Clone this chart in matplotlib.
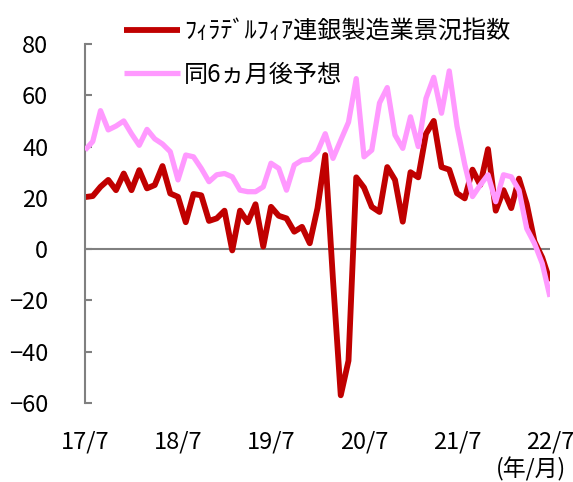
import matplotlib
matplotlib.use("Agg")
import matplotlib.pyplot as plt
import numpy as np

plt.rcParams['font.family'] = ['Noto Sans CJK JP', 'DejaVu Sans']

# Monthly data 2017/7 .. 2022/7
months = np.arange(61)
tick_pos = [0, 12, 24, 36, 48, 60]
tick_labels = ["17/7", "18/7", "19/7", "20/7", "21/7", "22/7"]

current_index = [20.3, 20.7, 24.3, 27.0, 23.0, 29.5, 23.0, 30.8, 23.7, 25.0,
                 32.4, 21.7, 20.4, 10.5, 21.5, 21.0, 11.0, 12.0, 15.0, -0.5,
                 15.0, 10.5, 17.5, 1.0, 16.5, 13.0, 12.0, 6.8, 8.7, 2.3,
                 16.0, 36.7, -12.0, -57.0, -43.5, 28.0, 24.0, 16.5, 14.5, 32.0,
                 27.0, 10.7, 30.0, 28.0, 45.0, 50.0, 32.0, 31.0, 21.8, 19.8,
                 31.0, 25.0, 39.0, 15.0, 23.0, 16.0, 27.5, 17.6, 3.0, -3.3,
                 -12.5]

future_index = [38.6, 42.0, 54.0, 46.5, 48.0, 50.0, 45.0, 40.5, 46.7, 43.0,
                41.0, 38.0, 27.0, 36.7, 36.0, 31.5, 26.3, 29.0, 29.5, 28.2,
                23.0, 22.4, 22.4, 24.3, 33.5, 31.5, 23.0, 32.8, 34.7, 35.0,
                38.0, 45.0, 35.4, 42.5, 49.5, 66.5, 36.0, 38.6, 57.0, 63.0,
                44.5, 39.3, 51.6, 40.0, 58.8, 67.0, 53.0, 69.5, 48.0, 33.0,
                20.5, 25.0, 29.0, 18.5, 29.0, 28.2, 23.0, 8.0, 2.2, -5.6,
                -18.6]

label_current = "ﾌｨﾗﾃﾞﾙﾌｨｱ連銀製造業景況指数"
label_future = "同6ヵ月後予想"

fig = plt.figure(figsize=(5.73, 4.82), dpi=100)
ax = fig.add_axes([85/573, 1 - 403/482, (550-85)/573, (403-44)/482])

ax.axhline(0, color="#808080", lw=1.5, zorder=1)
l1, = ax.plot(months, current_index, color="#C00000", lw=4.2,
              solid_joinstyle="round", solid_capstyle="butt", label=label_current, zorder=2)
l2, = ax.plot(months, future_index, color="#FF99FF", lw=3.8,
              solid_joinstyle="round", solid_capstyle="butt", label=label_future, zorder=3)

ax.set_xlim(0, 60)
ax.set_ylim(-60, 80)
ax.set_yticks(np.arange(-60, 81, 20))
ax.set_xticks(tick_pos)
ax.set_xticklabels(tick_labels)

for s in ["top", "right", "bottom"]:
    ax.spines[s].set_visible(False)
ax.spines["left"].set_color("#808080")
ax.spines["left"].set_linewidth(1.5)

ax.tick_params(axis="y", direction="in", length=5, width=1.5, color="#808080",
               labelsize=17, pad=26.5)
ax.tick_params(axis="x", length=0, labelsize=17, pad=20)

fig.text(0.988, 1 - 469/482, "(年/月)", ha="right", va="center", fontsize=16.5)

fig.legend(handles=[l1, l2], loc="upper left", bbox_to_anchor=(124/573, 1 - 18/482),
           frameon=False, fontsize=17.4, handlelength=2.3, handletextpad=0.17,
           labelspacing=0.72, borderpad=0, borderaxespad=0)

fig.savefig("out.png", dpi=100)
